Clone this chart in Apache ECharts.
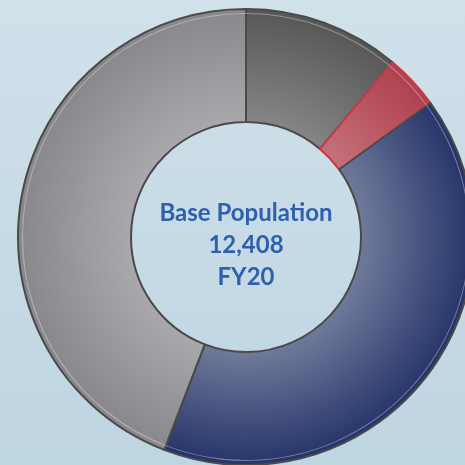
<!DOCTYPE html>
<html>
<head>
<meta charset="utf-8">
<style>
  html, body { margin: 0; padding: 0; }
  #main { width: 465px; height: 465px; }
</style>
<script src="https://cdn.jsdelivr.net/npm/echarts@6/dist/echarts.min.js"></script>
</head>
<body>
<div id="main"></div>
<script>
// slice values, clockwise from 12 o'clock
var sliceNames = ['Segment 1', 'Segment 2', 'Segment 3', 'Segment 4']
var sliceValues = [1378, 484, 5066, 5480]
var centerLines = ['Base Population', '12,408', 'FY20']

// inner / outer shade per slice
var innerColors = ['#858585', '#c4717a', '#6f7a9a', '#a9a9ad']
var outerColors = ['#575757', '#b0404e', '#26346a', '#88878c']

var cx = 246
var cy = 237
var rOut = 228
var rIn = 115

var myChart = echarts.init(document.getElementById('main'))

function shade(i) {
  return {
    type: 'radial',
    x: cx,
    y: cy,
    r: rOut,
    global: true,
    colorStops: [
      { offset: 0, color: innerColors[i] },
      { offset: rIn / rOut, color: innerColors[i] },
      { offset: 1, color: outerColors[i] }
    ]
  }
}

var pieData = sliceValues.map(function (v, i) {
  return {
    name: sliceNames[i],
    value: v,
    itemStyle: {
      color: shade(i),
      borderColor: i === 1 ? '#c83a48' : '#4a4a4a',
      borderWidth: 2
    }
  }
})

var option = {
  animation: false,
  backgroundColor: {
    type: 'linear', x: 0, y: 0, x2: 0, y2: 1,
    colorStops: [
      { offset: 0, color: '#d0e1ea' },
      { offset: 1, color: '#bed5e2' }
    ]
  },
  series: [
    {
      type: 'pie',
      center: [cx, cy],
      radius: [rIn, rOut],
      startAngle: 90,
      clockwise: true,
      label: { show: false },
      labelLine: { show: false },
      emphasis: { disabled: true },
      data: pieData
    },
    {
      // thin white highlight inside the outer edge
      type: 'pie',
      center: [cx, cy],
      radius: [rOut - 5, rOut - 4],
      startAngle: 90,
      silent: true,
      label: { show: false },
      labelLine: { show: false },
      itemStyle: { color: 'rgba(255,255,255,0.35)' },
      data: sliceValues.map(function (v) { return { value: v } })
    }
  ],
  graphic: [
    {
      type: 'text',
      x: cx,
      y: 245,
      style: {
        text: centerLines.join('\n'),
        align: 'center',
        verticalAlign: 'middle',
        fill: '#2f60ad',
        font: 'bold 24px Lato, "Open Sans", sans-serif',
        lineHeight: 32
      }
    }
  ]
}

myChart.setOption(option)
</script>
</body>
</html>
